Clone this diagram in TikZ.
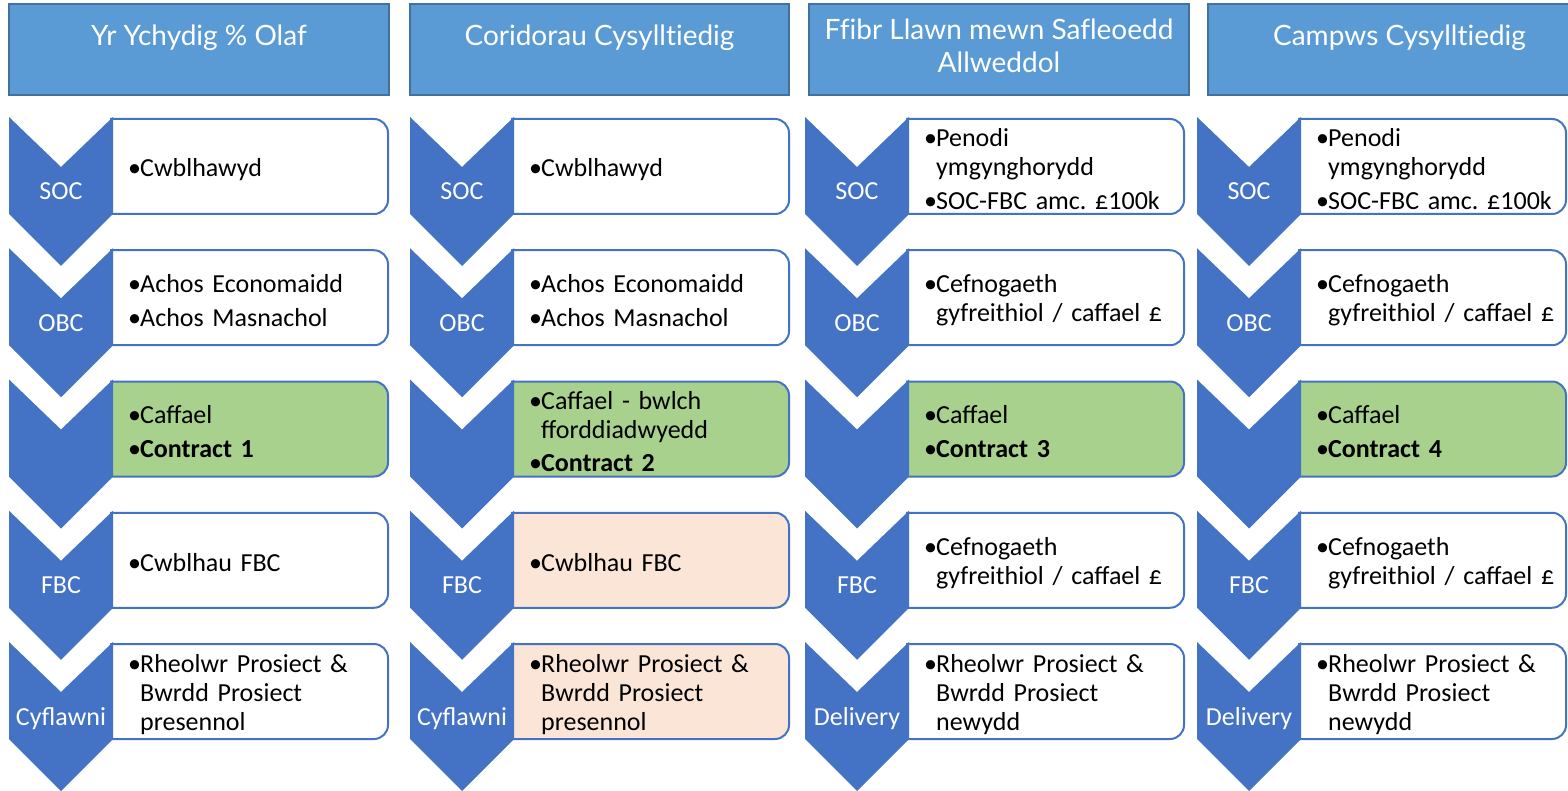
\documentclass[tikz,border=0pt]{standalone}
\usepackage{fontspec}
\setmainfont{Carlito}
\newfontfamily\headfont[Ligatures=NoCommon]{Lato}
\definecolor{chevblue}{HTML}{4472C4}
\definecolor{boxblue}{HTML}{4472C4}
\definecolor{headfill}{HTML}{5B9BD5}
\definecolor{headedge}{HTML}{41719C}
\definecolor{cellgreen}{HTML}{A9D18E}
\definecolor{cellpeach}{HTML}{FBE5D6}
\newcommand\bitem[1]{\par\hangindent=12pt\hangafter=1\noindent\makebox[12pt][l]{•}#1\par}
\newcommand\stagecell[7]{%
 \pgfmathsetmacro\sxa{#2}%
 \pgfmathsetmacro\sxm{#2+52}%
 \pgfmathsetmacro\sxb{#2+104}%
 \pgfmathsetmacro\sxbb{#2+102}%
 \pgfmathsetmacro\syt{117+131.25*#3}%
 \pgfmathsetmacro\sytop{\syt+2}%
 \pgfmathsetmacro\synotch{\syt+50}%
 \pgfmathsetmacro\syb{\syt+97}%
 \pgfmathsetmacro\sytip{\syt+149}%
 \pgfmathsetmacro\sylab{\syt+83}%
 \pgfmathsetmacro\syc{(\sytop+\syb)/2-5}%
 \pgfmathsetmacro\sxr{#4}%
 \pgfmathsetmacro\sxrr{#4-14}%
 \pgfmathsetmacro\sytr{\sytop+14}%
 \pgfmathsetmacro\sybr{\syb-14}%
 \pgfmathsetmacro\sxt{#2+104+15}%
 \pgfmathsetmacro\stw{#4-#2-104-22}%
 \draw[boxline, fill=#5] (\sxbb,\sytop) -- (\sxrr,\sytop) arc[start angle=-90,end angle=0,radius=14] -- (\sxr,\sybr) arc[start angle=0,end angle=90,radius=14] -- (\sxbb,\syb) -- cycle;
 \node[cell, text width=\stw pt] (#1) at (\sxt,\syc) {\setlength\parskip{4.5pt}\hyphenpenalty=10000\frenchspacing #7};
 \fill[chev] (\sxa,\syt) -- (\sxm,\synotch) -- (\sxb,\syt) -- (\sxb,\syb) -- (\sxm,\sytip) -- (\sxa,\syb) -- cycle;
 \if\relax\detokenize{#6}\relax\else
 \node[chevlabel] (#1l) at (\sxm,\sylab) {#6};
 \fi
}
\tikzset{
 boxline/.style={draw=boxblue, line width=2pt},
 chev/.style={fill=chevblue},
 cell/.style={inner sep=0pt, align=left, anchor=west, font=\fontsize{26}{29}\selectfont},
 chevlabel/.style={text=white, inner sep=0pt, anchor=base, font=\fontsize{26}{30}\selectfont},
 headbox/.style={draw=headedge, fill=headfill, line width=2.5pt, inner sep=0pt},
 headtext/.style={text=white, inner sep=0pt, font=\headfont\fontsize{28}{33}\selectfont, align=center},
}
\begin{document}
\begin{tikzpicture}[x=1pt,y=-1pt]
\useasboundingbox (0,0) rectangle (1568,791);
\clip (0,0) rectangle (1568,791);
% headers
\node[headbox, minimum width=380pt, minimum height=91pt] (h1) at (199,49.5) {};
\node[headbox, minimum width=379pt, minimum height=91pt] (h2) at (599.5,49.5) {};
\node[headbox, minimum width=380pt, minimum height=91pt] (h3) at (999,49.5) {};
\node[headbox, minimum width=383pt, minimum height=91pt] (h4) at (1399.5,49.5) {};
\node[headtext, anchor=base] (t1) at (199,46) {Yr Ychydig \% Olaf};
\node[headtext, anchor=base] (t2) at (599.5,46) {Coridorau Cysylltiedig};
\node[headtext, anchor=base] (t3) at (999,73) {Ffibr Llawn mewn Safleoedd\\Allweddol};
\node[headtext, anchor=base] (t4) at (1399.5,46) {Campws Cysylltiedig};
% column 1
\stagecell{c11}{9}{0}{388}{white}{SOC}{\bitem{Cwblhawyd}}
\stagecell{c12}{9}{1}{388}{white}{OBC}{\bitem{Achos Economaidd}\bitem{Achos Masnachol}}
\stagecell{c13}{9}{2}{388}{cellgreen}{}{\bitem{Caffael}\bitem{\textbf{Contract 1}}}
\stagecell{c14}{9}{3}{388}{white}{FBC}{\bitem{Cwblhau FBC}}
\stagecell{c15}{9}{4}{388}{white}{Cyflawni}{\bitem{Rheolwr Prosiect \&\newline Bwrdd Prosiect\newline presennol}}
% column 2
\stagecell{c21}{410}{0}{789}{white}{SOC}{\bitem{Cwblhawyd}}
\stagecell{c22}{410}{1}{789}{white}{OBC}{\bitem{Achos Economaidd}\bitem{Achos Masnachol}}
\stagecell{c23}{410}{2}{789}{cellgreen}{}{\bitem{Caffael - bwlch\newline fforddiadwyedd}\bitem{\textbf{Contract 2}}}
\stagecell{c24}{410}{3}{789}{cellpeach}{FBC}{\bitem{Cwblhau FBC}}
\stagecell{c25}{410}{4}{789}{cellpeach}{Cyflawni}{\bitem{Rheolwr Prosiect \&\newline Bwrdd Prosiect\newline presennol}}
% column 3
\stagecell{c31}{805}{0}{1184}{white}{SOC}{\bitem{Penodi\newline ymgynghorydd}\bitem{SOC-FBC amc. £100k}}
\stagecell{c32}{805}{1}{1184}{white}{OBC}{\bitem{Cefnogaeth\newline gyfreithiol / caffael £}}
\stagecell{c33}{805}{2}{1184}{cellgreen}{}{\bitem{Caffael}\bitem{\textbf{Contract 3}}}
\stagecell{c34}{805}{3}{1184}{white}{FBC}{\bitem{Cefnogaeth\newline gyfreithiol / caffael £}}
\stagecell{c35}{805}{4}{1184}{white}{Delivery}{\bitem{Rheolwr Prosiect \&\newline Bwrdd Prosiect\newline newydd}}
% column 4
\stagecell{c41}{1197}{0}{1566}{white}{SOC}{\bitem{Penodi\newline ymgynghorydd}\bitem{SOC-FBC amc. £100k}}
\stagecell{c42}{1197}{1}{1566}{white}{OBC}{\bitem{Cefnogaeth\newline gyfreithiol / caffael £}}
\stagecell{c43}{1197}{2}{1566}{cellgreen}{}{\bitem{Caffael}\bitem{\textbf{Contract 4}}}
\stagecell{c44}{1197}{3}{1566}{white}{FBC}{\bitem{Cefnogaeth\newline gyfreithiol / caffael £}}
\stagecell{c45}{1197}{4}{1566}{white}{Delivery}{\bitem{Rheolwr Prosiect \&\newline Bwrdd Prosiect\newline newydd}}
\end{tikzpicture}
\end{document}
